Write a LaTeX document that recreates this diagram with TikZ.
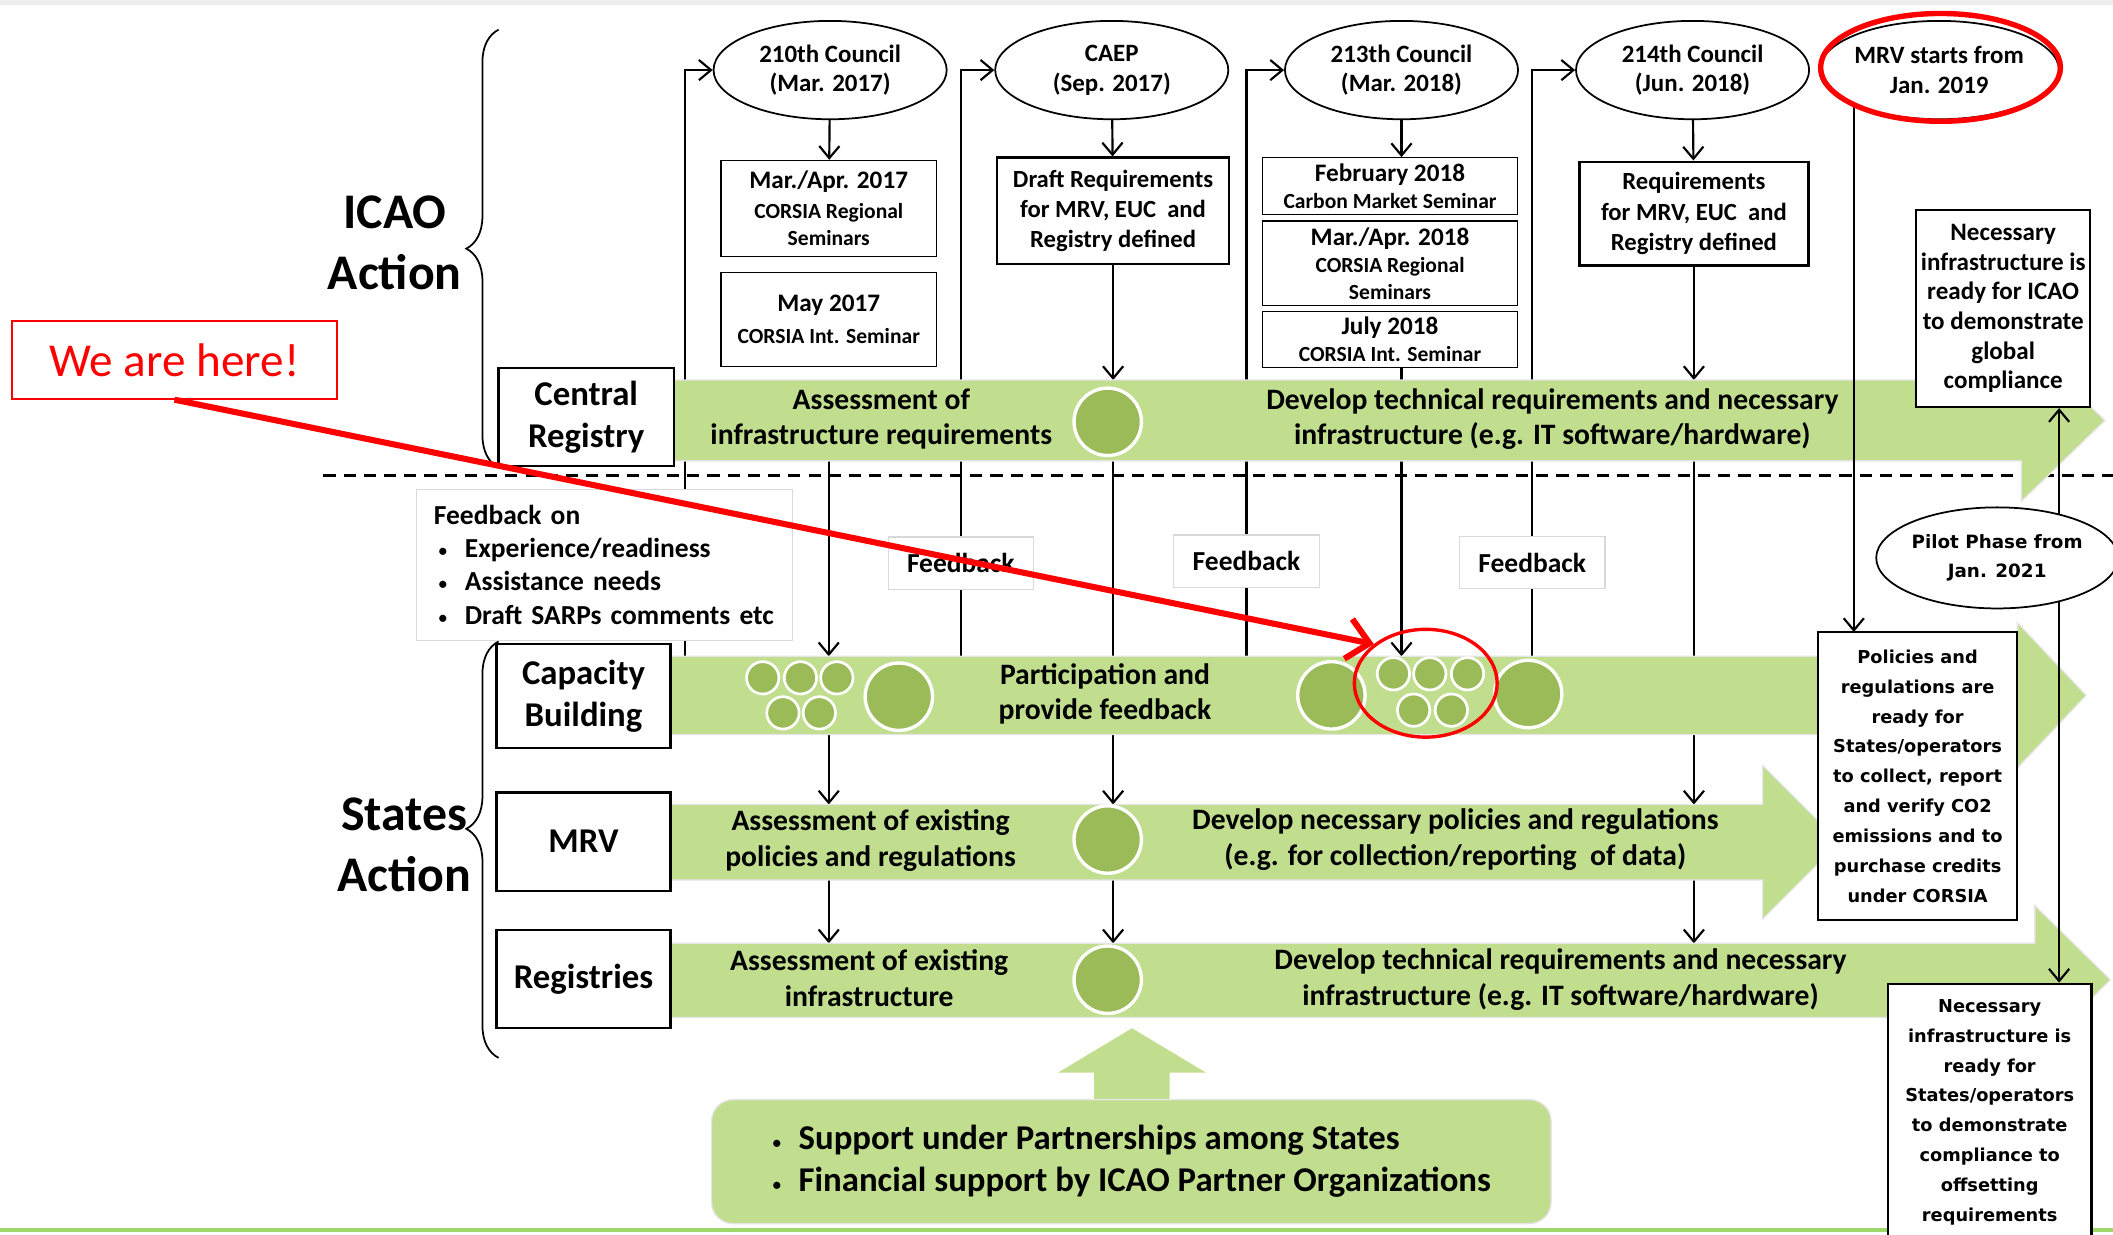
\documentclass[tikz,border=0pt]{standalone}
\usepackage{fontspec}
\setmainfont{Carlito}
\newfontfamily\widefont{DejaVu Sans}
\usetikzlibrary{shapes.geometric, arrows.meta, decorations.pathreplacing}

\definecolor{barGreen}{HTML}{C0DE8E}
\definecolor{dotGreen}{HTML}{9BBB59}
\definecolor{edgeGreen}{HTML}{9ED86A}

\newcommand{\fsz}[2]{\fontsize{#1}{#2}\selectfont}
\newcommand{\dotitem}{\makebox[20pt][l]{\mdseries\fsz{15}{15}\textbullet}}

\pgfdeclarelayer{lines}
\pgfdeclarelayer{bars}
\pgfsetlayers{lines,bars,main}

\begin{document}
\begin{tikzpicture}[x = 1pt, y = -1pt, > = {Straight Barb[length = 9pt, width = 15pt]},
	meeting/.style = {ellipse, draw, line width = 1.3pt, fill = white, inner sep = 0pt, minimum width = 173pt, minimum height = 73pt, align = center, font = \bfseries\fsz{18.5}{22}},
	seminar/.style = {draw, line width = 0.8pt, fill = white, inner sep = 0pt, minimum width = 160pt, align = center, font = \bfseries\fsz{16}{20}},
	outcome/.style = {draw, line width = 1.8pt, fill = white, inner sep = 0pt, align = center, font = \bfseries\fsz{18.3}{22.5}},
	track/.style = {draw, line width = 1.8pt, fill = white, inner sep = 0pt, minimum width = 129pt, align = center, font = \bfseries\fsz{25.8}{31.5}},
	ready/.style = {draw, line width = 1.6pt, fill = white, inner sep = 0pt, align = center, font = \widefont\bfseries\fsz{13.2}{22.2}},
	fbbox/.style = {draw = black!15, line width = 0.8pt, fill = white, inner sep = 0pt, minimum width = 108pt, minimum height = 39pt, font = \bfseries\fsz{20.4}{25}},
	bartext/.style = {align = center, font = \bfseries\fsz{22}{26.5}},
	bar/.style = {fill = barGreen, draw = black!10, line width = 1pt},
	bigdot/.style = {circle, fill = dotGreen, draw = white, line width = 2.5pt, minimum size = 50pt, inner sep = 0pt},
	smalldot/.style = {circle, fill = dotGreen, draw = white, line width = 2pt, minimum size = 24pt, inner sep = 0pt},
	conn/.style = {line width = 1.6pt}
]

	% Frame

	\useasboundingbox (0, 0) rectangle (1568, 916);
	\fill [black!7] (0, 0) rectangle (1568, 4);
	\draw [edgeGreen, line width = 3pt] (0, 913) -- (1568, 913);

	% ICAO meetings

	\node [meeting] (c210) at (616, 52) {210th Council\\(Mar. 2017)};
	\node [meeting] (caep) at (825, 52) {CAEP\\(Sep. 2017)};
	\node [meeting] (c213) at (1040, 52) {213th Council\\(Mar. 2018)};
	\node [meeting] (c214) at (1256, 52) {214th Council\\(Jun. 2018)};
	\node [meeting, minimum width = 168pt] (mrvgo) at (1439, 52) {MRV starts from\\Jan. 2019};

	\node [seminar, minimum height = 71pt] (sem1) at (615, 154.5) {{\fsz{18.7}{22}Mar./Apr. 2017}\\[2pt]CORSIA Regional\\Seminars};
	\node [seminar, minimum height = 70pt] (sem2) at (615, 237) {{\fsz{18.7}{22}May 2017}\\[4pt]CORSIA Int. Seminar};
	\node [outcome, minimum width = 172pt, minimum height = 79pt] (draft) at (826, 156.5) {Draft Requirements\\for MRV, EUC~ and\\Registry defined};
	\node [seminar, minimum width = 189pt, minimum height = 42pt] (feb18) at (1031.5, 138) {{\fsz{18.7}{21}February 2018}\\Carbon Market Seminar};
	\node [seminar, minimum width = 189pt, minimum height = 63pt] (mar18) at (1031.5, 195.5) {{\fsz{18.7}{21}Mar./Apr. 2018}\\CORSIA Regional\\Seminars};
	\node [seminar, minimum width = 189pt, minimum height = 42pt] (jul18) at (1031.5, 252) {{\fsz{18.7}{21}July 2018}\\CORSIA Int. Seminar};
	\node [outcome, minimum width = 170pt, minimum height = 77pt] (req) at (1257, 158.5) {Requirements\\for MRV, EUC~ and\\Registry defined};
	\node [outcome, line width = 1.6pt, minimum width = 129pt, minimum height = 146pt, font = \bfseries\fsz{18.6}{22}] (icaoready) at (1486.5, 229) {Necessary\\infrastructure is\\ready for ICAO\\to demonstrate\\global\\compliance};

	% Tracks

	\node [font = \bfseries\fsz{37}{45}, align = center] (icaolbl) at (293, 180) {ICAO\\Action};
	\node [font = \bfseries\fsz{37}{45}, align = center] (stateslbl) at (300, 627) {States\\Action};
	\draw [decorate, decoration = {brace, amplitude = 24pt}, line width = 1.3pt] (370, 347) -- (370, 22);
	\draw [decorate, decoration = {brace, amplitude = 24pt, aspect = 0.55}, line width = 1.3pt] (370, 785) -- (370, 476);

	\node [track, minimum width = 130pt, minimum height = 73pt] (central) at (435, 309.5) {Central\\Registry};
	\node [track, minimum height = 77pt] (capacity) at (433, 516.5) {Capacity\\Building};
	\node [track, minimum height = 73pt] (mrv) at (433, 624.5) {MRV};
	\node [track, minimum height = 73pt] (registries) at (433, 726.5) {Registries};

	% Bar edges

	\coordinate (crT) at (0, 282);
	\coordinate (crB) at (0, 342);
	\coordinate (cbT) at (0, 487);
	\coordinate (cbB) at (0, 545);
	\coordinate (mrT) at (0, 597);
	\coordinate (mrB) at (0, 653);
	\coordinate (rgT) at (0, 700);
	\coordinate (up1) at (508, 487);
	\coordinate (rl) at (1528, 0);

	% Feedback

	\node [draw = black!15, line width = 0.8pt, fill = white, minimum width = 279pt, minimum height = 112pt, text width = 265pt, inner xsep = 7pt, inner ysep = 0pt, align = left, font = \bfseries\fsz{20.4}{24.7}] (fbon) at (448.5, 419) {\hspace*{6pt}Feedback on\\
		\hspace*{9pt}\dotitem Experience/readiness\\
		\hspace*{9pt}\dotitem Assistance needs\\
		\hspace*{9pt}\dotitem Draft SARPs comments etc};
	\node [fbbox] (fb1) at (713, 418) {Feedback};
	\node [fbbox] (fb2) at (925, 416.5) {Feedback};
	\node [fbbox] (fb3) at (1137, 417.5) {Feedback};

	% Lines behind bars

	\begin{pgfonlayer}{lines}
		\draw [conn, ->] (up1) |- (c210.west);
		\draw [conn, ->] (fb1 |- cbT) |- (caep.west);
		\draw [conn, ->] (fb2 |- cbT) |- (c213.west);
		\draw [conn, ->] (fb3 |- cbT) |- (c214.west);
		\draw [conn, ->] (draft) -- (draft |- crT);
		\draw [conn, ->] (req) -- (req |- crT);
		\draw [conn] (c213 |- jul18.south) -- (c213 |- crT);
		\draw [conn, ->] (sem1 |- crB) -- (sem1 |- cbT);
		\draw [conn] (draft |- crB) -- (draft |- cbT);
		\draw [conn, ->] (c213 |- crB) -- (c213 |- cbT);
		\draw [conn, ->] (sem1 |- cbB) -- (sem1 |- mrT);
		\draw [conn, ->] (draft |- cbB) -- (draft |- mrT);
		\draw [conn, ->] (sem1 |- mrB) -- (sem1 |- rgT);
		\draw [conn, ->] (draft |- mrB) -- (draft |- rgT);
		\draw [conn, ->] (req |- crB) -- (req |- mrT);
		\draw [conn, ->] (req |- mrB) -- (req |- rgT);
	\end{pgfonlayer}

	% Bars

	\begin{pgfonlayer}{bars}
		\draw [line width = 2.2pt, dash pattern = on 9pt off 6pt] (240, 353) -- (1568, 353);
		\draw [bar] (500, 282) -- (1500, 282) -- (1500, 252) -- (1562, 312) -- (1500, 372) -- (1500, 342) -- (500, 342) -- cycle;
		\draw [bar] (497, 487) -- (1497, 487) -- (1497, 462) -- (1548, 516) -- (1497, 570) -- (1497, 545) -- (497, 545) -- cycle;
		\draw [bar] (497, 597) -- (1308, 597) -- (1308, 568) -- (1365, 625) -- (1308, 682) -- (1308, 653) -- (497, 653) -- cycle;
		\draw [bar] (497, 700) -- (1510, 700) -- (1510, 672) -- (1566, 727) -- (1510, 783) -- (1510, 755) -- (497, 755) -- cycle;
	\end{pgfonlayer}

	\node [bigdot] (dcr) at (822, 313) {};
	\node [bigdot] (dmr) at (822, 623) {};
	\node [bigdot] (drg) at (822, 727) {};
	\node [bigdot] (dcb1) at (667, 517) {};
	\node [bigdot] (dcb2) at (988, 516) {};
	\node [bigdot] (dcb3) at (1134, 515) {};
	\foreach \x/\y [count = \i] in {566/503, 594/503, 621/503, 581/529, 608/529, 1034/500, 1061/500, 1089/500, 1049/527, 1077/527}
		\node [smalldot] (sd\i) at (\x, \y) {};

	\node [bartext] (crA) at (654, 311) {Assessment of\\infrastructure requirements};
	\node [bartext] (crD) at (1152, 311) {Develop technical requirements and necessary\\infrastructure (e.g. IT software/hardware)};
	\node [bartext] (cbP) at (820, 515) {Participation and\\provide feedback};
	\node [bartext] (mrA) at (646, 624) {Assessment of existing\\policies and regulations};
	\node [bartext] (mrD) at (1080, 623) {Develop necessary policies and regulations\\(e.g. for collection/reporting~ of data)};
	\node [bartext] (rgA) at (645, 726) {Assessment of existing\\infrastructure};
	\node [bartext] (rgD) at (1158, 727) {Develop technical requirements and necessary\\infrastructure (e.g. IT software/hardware)};

	% Arrows between meetings and outputs

	\draw [conn, ->] (c210) -- (sem1);
	\draw [conn, ->] (caep) -- (draft);
	\draw [conn, ->] (c213) -- (c213 |- feb18.north);
	\draw [conn, ->] (c214) -- (req);
	\draw [conn, ->] (mrvgo.south west) -- (mrvgo.south west |- 0, 469);

	% Readiness

	\node [ready, minimum width = 148pt, minimum height = 214pt] (policies) at (1423, 576) {Policies and\\regulations are\\ready for\\States/operators\\to collect, report\\and verify CO2\\emissions and to\\purchase credits\\under CORSIA};
	\node [ready, minimum width = 151pt, minimum height = 188pt, text depth = 0pt] (infraready) at (1476.5, 824) {Necessary\\infrastructure is\\ready for\\States/operators\\to demonstrate\\compliance to\\offsetting\\requirements};
	\draw [conn, <->] (icaoready.south -| rl) -- (infraready.north -| rl);
	\node [ellipse, draw, line width = 1.3pt, fill = white, inner sep = 0pt, minimum width = 171pt, minimum height = 75pt, align = center, font = \widefont\bfseries\fsz{13.6}{22}] (pilot) at (1482, 414) {Pilot Phase from\\Jan. 2021};

	% Support

	\draw [bar, draw = none] (840, 763) -- (895, 796) -- (868, 796) -- (868, 818) -- (812, 818) -- (812, 796) -- (785, 796) -- cycle;
	\node [fill = barGreen, draw = black!10, line width = 1pt, rounded corners = 16pt, minimum width = 623pt, minimum height = 92pt, align = left, font = \bfseries\fsz{25.8}{31}] (support) at (839.5, 862) {\dotitem Support under Partnerships among States\\\dotitem Financial support by ICAO Partner Organizations};

	% We are here

	\node [draw = red, line width = 1.2pt, minimum width = 241pt, minimum height = 58pt, text = red, font = \fsz{35}{40}] (here) at (129.5, 267) {We are here!};
	\node [ellipse, draw = red, line width = 2.5pt, minimum width = 106pt, minimum height = 80pt] (herering) at (1058, 507) {};
	\node [ellipse, draw = red, line width = 4pt, minimum width = 178pt, minimum height = 80pt] (mrvring) at (1440, 50) {};
	\draw [red, line width = 4.5pt, -{Straight Barb[length = 16pt, width = 30pt]}] (here.south) -- (herering.143);

\end{tikzpicture}
\end{document}
